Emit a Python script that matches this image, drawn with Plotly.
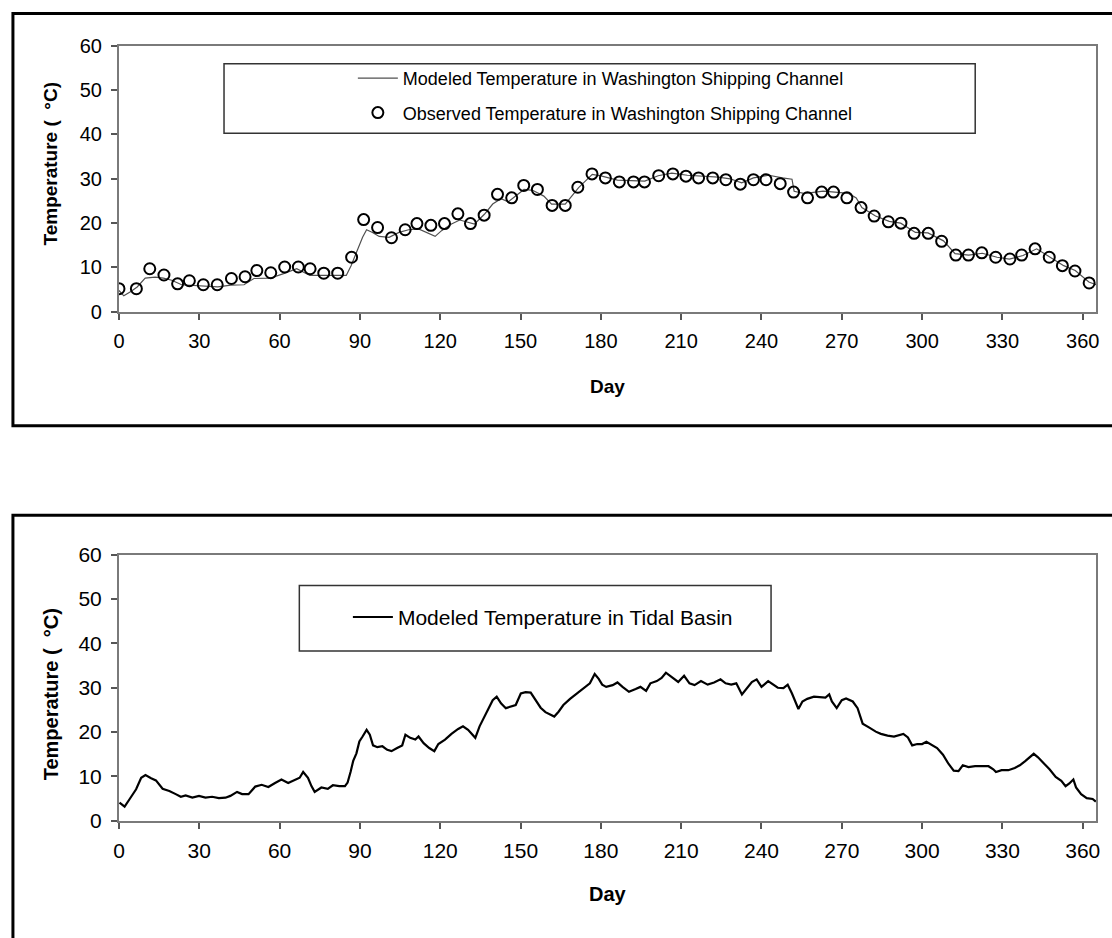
import plotly.graph_objects as go

# ---------------- data ----------------
x_ticks = [0, 30, 60, 90, 120, 150, 180, 210, 240, 270, 300, 330, 360]
y_ticks = [0, 10, 20, 30, 40, 50, 60]

# Top panel: modeled temperature, Washington Shipping Channel
ws_model_day = [0, 1.8, 4.3, 6.8, 9.8, 13.5, 16.6, 19.7, 23.4, 27.1, 32.0, 36.9, 41.8, 46.7, 50.4,
                56.6, 61.5, 66.4, 71.3, 76.3, 81.2, 84.9, 86.7, 89.2, 91.0, 92.5, 94.7, 97.2, 100.9,
                104.6, 108.2, 111.9, 115.0, 118.1, 120.5, 124.2, 127.3, 130.4, 132.8, 136.5, 139.6,
                142.7, 145.4, 151.3, 154.5, 158.7, 161.6, 166.7, 171.7, 176.8, 180.4, 186.2, 192.0,
                196.4, 201.4, 206.5, 212.3, 218.1, 223.9, 228.3, 232.6, 237.0, 242.8, 247.8, 251.4,
                252.2, 255.8, 258.7, 263.0, 267.4, 272.5, 275.4, 277.5, 282.6, 287.7, 292.0, 297.5,
                302.2, 308.0, 312.3, 317.4, 322.5, 328.0, 332.6, 337.7, 342.8, 347.8, 352.9, 357.2,
                362.3, 365.0]
ws_model_temp = [4.8, 3.6, 4.5, 5.6, 7.6, 7.8, 7.6, 7.1, 6.1, 6.0, 5.8, 5.6, 6.0, 6.1, 7.5,
                 7.6, 8.6, 9.7, 8.2, 8.2, 8.1, 8.2, 10.4, 14.2, 16.8, 18.5, 17.9, 17.0, 16.8,
                 17.9, 18.5, 18.7, 17.9, 17.0, 18.3, 19.8, 20.7, 20.1, 19.8, 22.0, 24.3,
                 25.5, 24.8, 27.6, 27.4, 26.1, 24.3, 24.3, 28.0, 31.0, 30.6, 29.7, 29.5,
                 29.5, 30.7, 31.3, 30.8, 30.6, 30.4, 30.0, 29.1, 30.2, 30.8, 30.2, 29.9,
                 27.2, 26.7, 26.9, 27.2, 27.0, 26.7, 25.7, 23.5, 21.6, 20.4, 20.0, 17.9,
                 17.8, 16.0, 13.1, 12.8, 13.2, 12.3, 11.9, 12.7, 14.2, 12.3, 10.4, 9.3,
                 6.7, 6.1]

# Top panel: observed temperature, Washington Shipping Channel
ws_obs_day = [0, 6.5, 11.5, 16.8, 21.9, 26.3, 31.5, 36.7, 42.0, 47.1, 51.5, 56.7, 61.9, 67.0, 71.4,
              76.5, 81.7, 86.9, 91.4, 96.6, 101.8, 106.9, 111.3, 116.5, 121.6, 126.6, 131.3, 136.4,
              141.4, 146.7, 151.2, 156.3, 161.8, 166.7, 171.4, 176.7, 181.7, 186.9, 192.2, 196.3,
              201.6, 206.9, 211.8, 216.5, 221.8, 226.7, 232.1, 237.0, 241.7, 247.0, 252.0, 257.2,
              262.5, 266.9, 271.9, 277.2, 282.1, 287.4, 292.1, 297.0, 302.3, 307.3, 312.6, 317.3,
              322.3, 327.5, 332.8, 337.2, 342.2, 347.5, 352.4, 357.1, 362.4]
ws_obs_temp = [5.2, 5.2, 9.7, 8.3, 6.3, 7.0, 6.1, 6.1, 7.5, 7.9, 9.3, 8.8, 10.1, 10.1, 9.7,
               8.7, 8.7, 12.3, 20.8, 19.0, 16.7, 18.5, 19.9, 19.5, 19.9, 22.1, 19.9, 21.8,
               26.5, 25.7, 28.5, 27.6, 24.0, 24.0, 28.1, 31.1, 30.2, 29.3, 29.3, 29.3,
               30.7, 31.1, 30.6, 30.2, 30.2, 29.8, 28.8, 29.8, 29.8, 28.9, 27.0, 25.7,
               27.0, 27.0, 25.7, 23.5, 21.6, 20.3, 20.0, 17.7, 17.7, 15.9, 12.8, 12.8,
               13.3, 12.3, 11.9, 12.8, 14.2, 12.3, 10.4, 9.2, 6.5]

# Bottom panel: modeled temperature, Tidal Basin  (day, temperature)
tidal_readings = [
    (0.2, 4.1), (2.1, 3.2), (4.0, 4.9), (6.4, 7.1), (8.3, 9.7), (9.9, 10.3), (12.0, 9.6), (13.8, 9.1),
    (16.3, 7.2), (18.8, 6.7), (21.2, 6.0), (23.1, 5.4), (24.9, 5.7), (27.4, 5.2), (29.9, 5.6), (32.3, 5.2),
    (34.8, 5.4), (37.3, 5.1), (39.8, 5.2), (41.6, 5.6), (44.1, 6.5), (46.0, 6.0), (48.4, 6.0), (50.9, 7.7),
    (53.3, 8.1), (55.8, 7.6), (58.3, 8.5), (60.7, 9.3), (63.2, 8.5), (65.7, 9.3), (67.5, 9.7), (68.8, 11.0),
    (70.6, 9.7), (71.9, 7.8), (73.1, 6.5), (75.6, 7.5), (78.0, 7.2), (79.9, 8.0), (82.3, 7.8), (84.4, 7.8),
    (85.4, 8.6), (86.5, 11.0), (87.5, 13.5), (88.7, 15.2), (89.8, 17.9), (91.0, 19.0), (92.5, 20.5),
    (93.7, 19.4), (94.9, 17.0), (96.5, 16.6), (98.4, 16.8), (100.2, 16.0), (101.8, 15.7), (103.9, 16.4),
    (105.8, 17.0), (107.0, 19.4), (108.8, 18.7), (110.7, 18.3), (111.9, 19.0), (113.8, 17.5), (115.9, 16.4),
    (117.8, 15.7), (119.3, 17.3), (121.8, 18.3), (124.2, 19.6), (126.7, 20.7), (128.5, 21.3), (130.4, 20.5),
    (131.9, 19.4), (133.1, 18.7), (134.7, 21.3), (136.5, 23.5), (138.0, 25.4), (139.6, 27.2), (141.1, 28.0),
    (142.7, 26.5), (144.5, 25.4), (146.4, 25.7), (148.2, 26.1), (150.1, 28.7), (151.9, 29.0), (153.8, 28.9),
    (155.6, 27.2), (157.5, 25.5), (159.3, 24.5), (161.2, 24.0), (162.6, 23.5), (164.2, 24.6), (166.0, 26.1),
    (168.5, 27.5), (171.0, 28.7), (173.4, 29.7), (175.9, 31.0), (177.7, 33.1), (179.2, 32.0), (180.5, 30.7),
    (182.0, 30.2), (184.4, 30.6), (186.2, 31.2), (188.1, 30.2), (190.5, 29.1), (193.0, 29.7), (194.8, 30.2),
    (196.9, 29.3), (198.5, 31.0), (200.9, 31.5), (202.7, 32.2), (204.3, 33.4), (206.4, 32.5), (208.9, 31.3),
    (211.1, 32.7), (213.1, 31.0), (215.0, 30.6), (217.4, 31.5), (219.9, 30.7), (222.3, 31.2), (224.7, 31.9),
    (226.6, 31.0), (228.7, 30.7), (230.6, 31.0), (232.7, 28.5), (234.5, 29.9), (236.4, 31.3), (238.2, 31.9),
    (240.0, 30.2), (242.5, 31.5), (244.3, 30.7), (246.1, 30.0), (248.2, 29.9), (249.8, 30.7), (251.4, 28.7),
    (252.9, 26.5), (253.8, 25.2), (255.3, 26.9), (257.1, 27.5), (259.6, 28.0), (262.0, 27.8), (263.9, 27.8),
    (265.3, 28.5), (266.3, 26.9), (268.1, 25.4), (270.0, 27.2), (271.6, 27.6), (274.1, 26.9), (275.9, 25.4),
    (277.2, 23.1), (277.8, 21.9), (280.3, 21.0), (282.7, 20.1), (284.6, 19.6), (287.1, 19.2), (289.5, 19.0),
    (291.4, 19.3), (293.0, 19.6), (294.7, 18.8), (296.3, 17.0), (298.2, 17.3), (300.0, 17.3), (301.6, 17.8),
    (303.7, 17.0), (305.6, 16.4), (307.8, 14.9), (309.9, 12.8), (311.8, 11.3), (313.6, 11.2), (315.2, 12.5),
    (317.3, 12.1), (319.8, 12.3), (322.3, 12.3), (324.8, 12.3), (326.6, 11.6), (327.6, 11.0), (329.7, 11.4),
    (332.2, 11.4), (334.6, 11.9), (336.5, 12.5), (338.4, 13.4), (340.2, 14.3), (341.7, 15.1), (343.3, 14.3),
    (345.2, 13.1), (347.6, 11.6), (349.9, 9.9), (352.0, 9.0), (353.6, 7.8), (355.0, 8.4), (356.5, 9.3),
    (357.5, 7.5), (359.4, 6.0), (361.5, 5.1), (363.7, 4.9), (364.9, 4.3),
]
tidal_day = [d for d, _ in tidal_readings]
tidal_temp = [t for _, t in tidal_readings]

# ---------------- layout helpers ----------------
W, H = 1112, 938
FONT = "Liberation Sans, Arial, Helvetica, sans-serif"


def px(x):
    return x / W


def py(y):
    # target picture row -> paper fraction (the photographed page adds ~8px above and
    # compresses vertically by 938/954, so compensate here)
    yc = y * 954.0 / 938.0 - 8.0
    return 1 - yc / H


fig = go.Figure()

fig.add_trace(go.Scatter(
    x=ws_model_day, y=ws_model_temp, mode="lines",
    name="Modeled Temperature in Washington Shipping Channel",
    line=dict(color="#505050", width=1.2),
    xaxis="x", yaxis="y", legend="legend", legendgroup="a",
))
fig.add_trace(go.Scatter(
    x=ws_obs_day, y=ws_obs_temp, mode="markers",
    name="Observed Temperature in Washington Shipping Channel",
    marker=dict(symbol="circle-open", size=11, color="black", line=dict(width=2, color="black")),
    xaxis="x", yaxis="y", legend="legend", legendgroup="b",
))
fig.add_trace(go.Scatter(
    x=tidal_day, y=tidal_temp, mode="lines",
    name="Modeled Temperature in Tidal Basin",
    line=dict(color="black", width=2.2),
    xaxis="x2", yaxis="y2", legend="legend2",
))

axis_common = dict(
    showgrid=False, zeroline=False, showline=True, mirror=True,
    linecolor="#7a7a7a", linewidth=2,
    ticks="outside", ticklen=6, tickwidth=1.5, tickcolor="#555555",
)

x_dom = [px(114), px(1100)]

fig.update_layout(
    width=W, height=H,
    margin=dict(l=0, r=0, t=0, b=0),
    paper_bgcolor="white", plot_bgcolor="white",
    font=dict(family=FONT, color="black"),
    showlegend=True,
    xaxis=dict(domain=x_dom, range=[0, 365], tickvals=x_ticks, anchor="y",
               tickfont=dict(size=20, family=FONT, color="black"), ticklabelstandoff=4, **axis_common),
    yaxis=dict(domain=[py(310), py(42)], range=[0, 60], tickvals=y_ticks, anchor="x",
               tickfont=dict(size=20, family=FONT, color="black"), ticklabelstandoff=5, **axis_common),
    xaxis2=dict(domain=x_dom, range=[0, 365], tickvals=x_ticks, anchor="y2",
                tickfont=dict(size=21, family=FONT, color="black"), ticklabelstandoff=4, **axis_common),
    yaxis2=dict(domain=[py(823), py(555)], range=[0, 60], tickvals=y_ticks, anchor="x2",
                tickfont=dict(size=21, family=FONT, color="black"), ticklabelstandoff=5, **axis_common),
    legend=dict(x=px(350), y=py(92), xanchor="left", yanchor="middle",
                bgcolor="rgba(0,0,0,0)", borderwidth=0, traceorder="grouped", tracegroupgap=8,
                font=dict(size=18, family=FONT, color="black"), itemwidth=40),
    legend2=dict(x=px(345), y=py(618), xanchor="left", yanchor="middle",
                 bgcolor="rgba(0,0,0,0)", borderwidth=0,
                 font=dict(size=21, family=FONT, color="black"), itemwidth=40),
)

top_line = 1 - 1.5 / H  # as high as the page allows
shapes = [
    # outer chart boxes (right/bottom edges run off the picture, as in the reference)
    dict(type="rect", xref="paper", yref="paper", x0=px(7), x1=1.02, y0=py(425), y1=top_line,
         line=dict(color="black", width=3), layer="below"),
    dict(type="rect", xref="paper", yref="paper", x0=px(7), x1=1.02, y0=-0.05, y1=py(515),
         line=dict(color="black", width=3), layer="below"),
    # legend frames
    dict(type="rect", xref="paper", yref="paper", x0=px(220), x1=px(978), y0=py(130), y1=py(60),
         line=dict(color="#333333", width=1.5), fillcolor="white", layer="above"),
    dict(type="rect", xref="paper", yref="paper", x0=px(296), x1=px(772), y0=py(652), y1=py(586),
         line=dict(color="#333333", width=1.5), fillcolor="white", layer="above"),
]
fig.update_layout(shapes=shapes)

annotations = [
    dict(text="Day", x=px(607), y=py(385), xref="paper", yref="paper", showarrow=False,
         xanchor="center", yanchor="middle", font=dict(size=19, family=FONT, color="black", weight="bold")),
    dict(text="Day", x=px(607), y=py(897), xref="paper", yref="paper", showarrow=False,
         xanchor="center", yanchor="middle", font=dict(size=20, family=FONT, color="black", weight="bold")),
    dict(text="Temperature (  °C)", x=px(45), y=py(161), xref="paper", yref="paper", showarrow=False,
         textangle=-90, xanchor="center", yanchor="middle",
         font=dict(size=19, family=FONT, color="black", weight="bold")),
    dict(text="Temperature (  °C)", x=px(45), y=py(696), xref="paper", yref="paper", showarrow=False,
         textangle=-90, xanchor="center", yanchor="middle",
         font=dict(size=20, family=FONT, color="black", weight="bold")),
]
fig.update_layout(annotations=annotations)

fig.write_html("out.html")
